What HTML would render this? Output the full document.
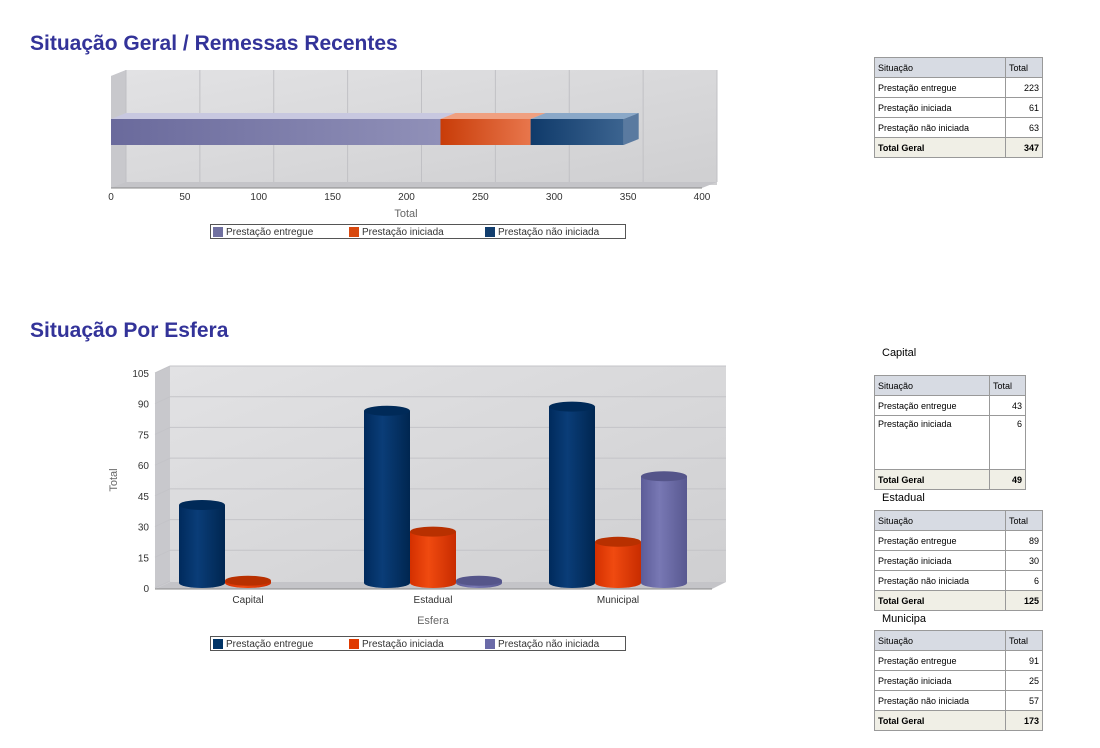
<!DOCTYPE html>
<html><head><meta charset="utf-8">
<style>
body{margin:0;width:1100px;height:748px;background:#fff;position:relative;overflow:hidden;font-family:"Liberation Sans",sans-serif}
.title{position:absolute;left:30px;font-size:21px;font-weight:bold;color:#333399}
table{position:absolute;border-collapse:collapse;font-size:9px;color:#000}
td{border:1px solid #999;padding:0 3px;height:19px;vertical-align:middle}
tr.h td{background:#d7dbe3}
tr.t td{background:#f0efe6;font-weight:bold}
td.n{text-align:right}
.lbl{position:absolute;font-size:11px;color:#000}
svg{position:absolute;left:0;top:0}
</style></head><body>
<div class="title" style="top:32px">Situação Geral / Remessas Recentes</div>
<div class="title" style="top:319px">Situação Por Esfera</div>

<table style="left:874px;top:57px;width:169px">
<tr class="h"><td style="width:124px">Situação</td><td>Total</td></tr>
<tr><td>Prestação entregue</td><td class="n">223</td></tr>
<tr><td>Prestação iniciada</td><td class="n">61</td></tr>
<tr><td>Prestação não iniciada</td><td class="n">63</td></tr>
<tr class="t"><td>Total Geral</td><td class="n">347</td></tr>
</table>

<div class="lbl" style="left:882px;top:347px">Capital</div>
<table style="left:874px;top:375px;width:152px">
<tr class="h"><td style="width:108px">Situação</td><td>Total</td></tr>
<tr><td>Prestação entregue</td><td class="n">43</td></tr>
<tr><td style="height:50px;vertical-align:top;padding-top:3px">Prestação iniciada</td><td class="n" style="vertical-align:top;padding-top:3px">6</td></tr>
<tr class="t"><td>Total Geral</td><td class="n">49</td></tr>
</table>

<div class="lbl" style="left:882px;top:492px">Estadual</div>
<table style="left:874px;top:510px;width:169px">
<tr class="h"><td style="width:124px">Situação</td><td>Total</td></tr>
<tr><td>Prestação entregue</td><td class="n">89</td></tr>
<tr><td>Prestação iniciada</td><td class="n">30</td></tr>
<tr><td>Prestação não iniciada</td><td class="n">6</td></tr>
<tr class="t"><td>Total Geral</td><td class="n">125</td></tr>
</table>

<div class="lbl" style="left:882px;top:613px">Municipa</div>
<table style="left:874px;top:630px;width:169px">
<tr class="h"><td style="width:124px">Situação</td><td>Total</td></tr>
<tr><td>Prestação entregue</td><td class="n">91</td></tr>
<tr><td>Prestação iniciada</td><td class="n">25</td></tr>
<tr><td>Prestação não iniciada</td><td class="n">57</td></tr>
<tr class="t"><td>Total Geral</td><td class="n">173</td></tr>
</table>

<svg id="c" width="1100" height="748" xmlns="http://www.w3.org/2000/svg" font-family="Liberation Sans, sans-serif">
<defs>
<linearGradient id="wall" x1="0" y1="0" x2="1" y2="1"><stop offset="0" stop-color="#e2e2e4"/><stop offset="1" stop-color="#cfcfd1"/></linearGradient>
<linearGradient id="hp" x1="0" x2="1"><stop offset="0" stop-color="#6a6a9c"/><stop offset="1" stop-color="#9090b8"/></linearGradient>
<linearGradient id="ho" x1="0" x2="1"><stop offset="0" stop-color="#c83c08"/><stop offset="1" stop-color="#e8764c"/></linearGradient>
<linearGradient id="hb" x1="0" x2="1"><stop offset="0" stop-color="#0f3a6a"/><stop offset="1" stop-color="#3c6490"/></linearGradient>
<linearGradient id="cb" x1="0" x2="1"><stop offset="0" stop-color="#002a5c"/><stop offset=".4" stop-color="#0a3d78"/><stop offset="1" stop-color="#002650"/></linearGradient>
<linearGradient id="co" x1="0" x2="1"><stop offset="0" stop-color="#d43000"/><stop offset=".4" stop-color="#f04a10"/><stop offset="1" stop-color="#c82c00"/></linearGradient>
<linearGradient id="cp" x1="0" x2="1"><stop offset="0" stop-color="#5c5c98"/><stop offset=".4" stop-color="#7878b4"/><stop offset="1" stop-color="#585890"/></linearGradient>
</defs>
<g id="chart1"></g>
<g id="chart2"></g>
</svg>
<script>
const ns="http://www.w3.org/2000/svg";
const seriesNames=["Prestação entregue","Prestação iniciada","Prestação não iniciada"];
const totals1=[223,61,63];
const ticks1=[0,50,100,150,200,250,300,350,400];
const categories2=["Capital","Estadual","Municipal"];
const entregue2=[43,89,91];
const iniciada2=[6,30,25];
const naoIniciada2=[0,6,57];
const ticks2=[0,15,30,45,60,75,90,105];

function el(tag,attrs,parent,text){const e=document.createElementNS(ns,tag);for(const k in attrs)e.setAttribute(k,attrs[k]);if(text!==undefined)e.textContent=text;parent.appendChild(e);return e;}

const g1=document.getElementById('chart1');
const x1=v=>111+v*(591/400);
const D1x=15,D1y=6;
el('polygon',{points:`111,76 126,70 717,70 702,76 702,188 111,188`,fill:'#d8d8da'},g1);
el('rect',{x:126,y:70,width:591,height:115,fill:'url(#wall)'},g1);
el('polygon',{points:`111,76 126,70 126,185 111,188`,fill:'#c8c8cc'},g1);
el('polygon',{points:`111,188 126,182 717,182 702,188`,fill:'#c4c4c8'},g1);
ticks1.forEach(t=>{el('line',{x1:x1(t)+D1x,y1:70,x2:x1(t)+D1x,y2:182,stroke:'#c0c0c4','stroke-width':1},g1);
 const tx=el('text',{x:x1(t),y:200,'font-size':10,fill:'#333','text-anchor':'middle'},g1,String(t));
 });
el('line',{x1:111,y1:188,x2:702,y2:188,stroke:'#888'},g1);
const fills1=['url(#hp)','url(#ho)','url(#hb)'],tops1=['#c8c8e0','#f0a080','#8aa8c8'];
let acc=0;
totals1.forEach((v,i)=>{const a=x1(acc),b=x1(acc+v);acc+=v;
 const top=el('polygon',{points:`${a},119 ${a+D1x},113 ${b+D1x},113 ${b},119`,fill:tops1[i]},g1);
 
 const r=el('rect',{x:a,y:119,width:b-a,height:26,fill:fills1[i]},g1);
 
 if(i===totals1.length-1){el('polygon',{points:`${b},119 ${b+D1x},113 ${b+D1x},139 ${b},145`,fill:'#5a7aa0'},g1);}
});
el('text',{x:406,y:217,'font-size':11,fill:'#666','text-anchor':'middle'},g1,'Total');
const legColors1=['#7070a0','#d8480e','#123e6e'],legColors2=['#003366','#e03a00','#6a6aa8'];
function legend(g,y,cols){el('rect',{x:210.5,y:y+.5,width:415,height:14,fill:'#fff',stroke:'#555'},g);
 [0,1,2].forEach(i=>{const lx=[213,349,485][i];const s=el('rect',{x:lx,y:y+3,width:10,height:10,fill:cols[i]},g);
 
 const t=el('text',{x:lx+13,y:y+11,'font-size':10,fill:'#333'},g,seriesNames[i]);
 });}
legend(g1,224,legColors1);

const g2=document.getElementById('chart2');
const y2=v=>588-v*(215/105);
el('polygon',{points:`155,373 170,366 170,582 155,589`,fill:'#c8c8cc'},g2);
el('rect',{x:170,y:366,width:556,height:216,fill:'url(#wall)'},g2);
el('polygon',{points:`155,589 170,582 726,582 712,589`,fill:'#c4c4c8'},g2);
ticks2.forEach(t=>{const yy=y2(t);
 if(t>0)el('line',{x1:170,y1:yy-7,x2:726,y2:yy-7,stroke:'#c4c4c8'},g2);
 el('line',{x1:155,y1:yy,x2:170,y2:yy-7,stroke:'#c4c4c8'},g2);
 const tx=el('text',{x:149,y:yy+4,'font-size':10,fill:'#333','text-anchor':'end'},g2,String(t));
 });
el('line',{x1:155,y1:589,x2:712,y2:589,stroke:'#888'},g2);
const yt=el('text',{x:117,y:480,'font-size':11,fill:'#666','text-anchor':'middle',transform:'rotate(-90 117 480)'},g2,'Total');

const xc=i=>248+i*185;
const series2=[entregue2,iniciada2,naoIniciada2],cf=['url(#cb)','url(#co)','url(#cp)'],ct=['#002a58','#b83000','#55558a'];
const W=46,RY=5;
categories2.forEach((c,i)=>{
 series2.forEach((s,j)=>{const v=s[i];if(v<=0)return;const x=xc(i)-69+j*W;const top=y2(v)+RY,bot=583;
  const b=el('path',{d:`M${x},${top} L${x},${bot} A${W/2},${RY} 0 0 0 ${x+W},${bot} L${x+W},${top} Z`,fill:cf[j]},g2);
  
  el('ellipse',{cx:x+W/2,cy:top,rx:W/2,ry:RY,fill:ct[j]},g2);});
 const t=el('text',{x:xc(i),y:603,'font-size':10,fill:'#333','text-anchor':'middle'},g2,c);
 
});
const xt=el('text',{x:433,y:624,'font-size':11,fill:'#666','text-anchor':'middle'},g2,'Esfera');

legend(g2,636,legColors2);
</script>
</body></html>
